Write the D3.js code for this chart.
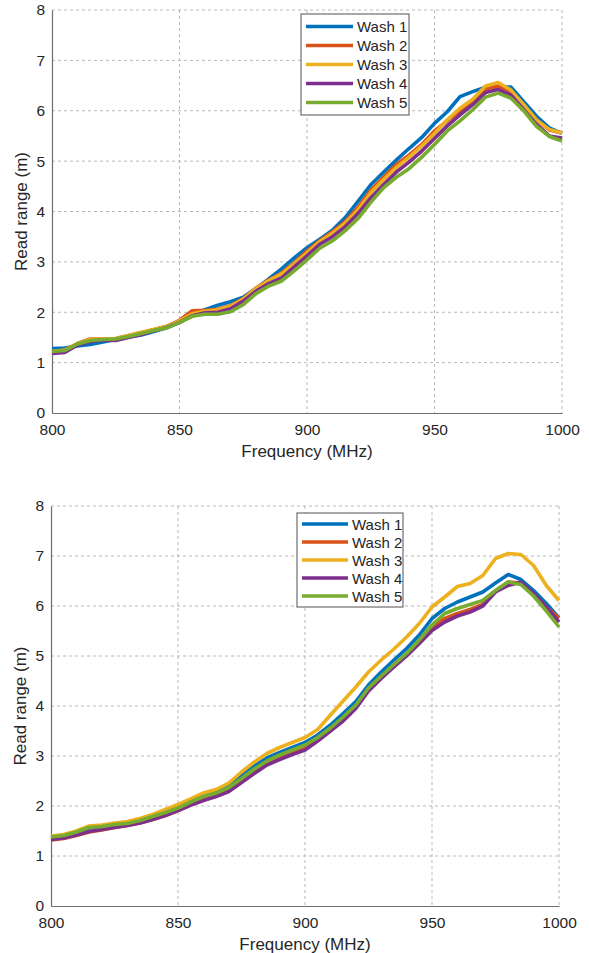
<!DOCTYPE html>
<html>
<head>
<meta charset="utf-8">
<script src="https://cdn.jsdelivr.net/npm/d3@7"></script>
<style>
  body { margin: 0; background: #fff; }
  svg { display: block; font-family: "Liberation Sans", Arial, sans-serif; }
</style>
</head>
<body>
<svg id="chart" width="589" height="953"></svg>
<script>
// Read range vs frequency for five wash cycles, two tag samples.
var freqs = [800, 805, 810, 815, 820, 825, 830, 835, 840, 845, 850, 855, 860, 865, 870, 875, 880, 885, 890, 895,
             900, 905, 910, 915, 920, 925, 930, 935, 940, 945, 950, 955, 960, 965, 970, 975, 980, 985, 990, 995, 1000];
var seriesNames = ['Wash 1', 'Wash 2', 'Wash 3', 'Wash 4', 'Wash 5'];
var seriesColors = ['#0072BD', '#D95319', '#EDB120', '#7E2F8E', '#77AC30'];
var xTicks = [800, 850, 900, 950, 1000];
var yTicks = [0, 1, 2, 3, 4, 5, 6, 7, 8];

// top chart
var topWash1 = [1.28, 1.29, 1.33, 1.36, 1.41, 1.46, 1.51, 1.55, 1.62, 1.69, 1.80, 1.94, 2.05, 2.14, 2.21, 2.30, 2.47, 2.66, 2.86, 3.08,
                3.28, 3.45, 3.63, 3.88, 4.20, 4.53, 4.78, 5.02, 5.25, 5.47, 5.75, 5.98, 6.28, 6.38, 6.47, 6.47, 6.47, 6.18, 5.89, 5.66, 5.55];
var topWash2 = [1.22, 1.25, 1.38, 1.47, 1.47, 1.48, 1.54, 1.60, 1.66, 1.72, 1.84, 2.03, 2.04, 2.06, 2.13, 2.27, 2.48, 2.64, 2.78, 2.98,
                3.22, 3.42, 3.60, 3.80, 4.08, 4.42, 4.68, 4.93, 5.12, 5.33, 5.60, 5.80, 6.00, 6.20, 6.43, 6.49, 6.38, 6.10, 5.82, 5.62, 5.56];
var topWash3 = [1.22, 1.25, 1.37, 1.46, 1.47, 1.48, 1.54, 1.60, 1.66, 1.72, 1.83, 1.97, 2.02, 2.05, 2.12, 2.26, 2.47, 2.63, 2.76, 2.96,
                3.18, 3.40, 3.57, 3.77, 4.03, 4.37, 4.63, 4.87, 5.08, 5.30, 5.55, 5.82, 6.05, 6.23, 6.49, 6.56, 6.41, 6.12, 5.82, 5.63, 5.56];
var topWash4 = [1.18, 1.20, 1.35, 1.42, 1.45, 1.44, 1.50, 1.56, 1.63, 1.70, 1.80, 1.93, 1.99, 2.00, 2.07, 2.22, 2.42, 2.57, 2.68, 2.90,
                3.12, 3.35, 3.50, 3.70, 3.96, 4.27, 4.53, 4.78, 4.98, 5.20, 5.45, 5.70, 5.92, 6.12, 6.36, 6.42, 6.31, 6.02, 5.73, 5.50, 5.46];
var topWash5 = [1.22, 1.24, 1.37, 1.44, 1.46, 1.47, 1.52, 1.58, 1.64, 1.69, 1.80, 1.92, 1.96, 1.96, 2.01, 2.15, 2.37, 2.52, 2.62, 2.82,
                3.04, 3.27, 3.42, 3.62, 3.86, 4.18, 4.47, 4.68, 4.85, 5.08, 5.33, 5.60, 5.80, 6.02, 6.27, 6.35, 6.25, 6.00, 5.69, 5.49, 5.40];

// bottom chart
var botWash1 = [1.37, 1.40, 1.47, 1.56, 1.58, 1.62, 1.66, 1.71, 1.78, 1.87, 1.97, 2.08, 2.19, 2.27, 2.40, 2.60, 2.80, 2.96, 3.07, 3.17,
                3.27, 3.42, 3.62, 3.85, 4.09, 4.42, 4.68, 4.92, 5.15, 5.42, 5.75, 5.95, 6.08, 6.18, 6.28, 6.46, 6.63, 6.53, 6.31, 6.05, 5.76];
var botWash2 = [1.32, 1.35, 1.41, 1.48, 1.52, 1.57, 1.61, 1.66, 1.73, 1.81, 1.91, 2.02, 2.12, 2.20, 2.30, 2.48, 2.68, 2.85, 2.96, 3.06,
                3.15, 3.32, 3.52, 3.73, 3.98, 4.32, 4.56, 4.80, 5.03, 5.30, 5.57, 5.75, 5.85, 5.93, 6.03, 6.30, 6.48, 6.46, 6.22, 5.98, 5.76];
var botWash3 = [1.40, 1.43, 1.50, 1.60, 1.62, 1.66, 1.69, 1.75, 1.83, 1.93, 2.03, 2.14, 2.26, 2.33, 2.46, 2.68, 2.88, 3.05, 3.17, 3.27,
                3.37, 3.53, 3.82, 4.10, 4.38, 4.68, 4.92, 5.14, 5.38, 5.65, 5.98, 6.18, 6.39, 6.45, 6.61, 6.95, 7.05, 7.03, 6.81, 6.41, 6.11];
var botWash4 = [1.33, 1.36, 1.42, 1.49, 1.53, 1.57, 1.61, 1.66, 1.73, 1.81, 1.91, 2.02, 2.11, 2.19, 2.29, 2.47, 2.65, 2.82, 2.93, 3.03,
                3.12, 3.30, 3.50, 3.70, 3.95, 4.30, 4.55, 4.78, 5.00, 5.25, 5.51, 5.68, 5.80, 5.88, 6.00, 6.28, 6.41, 6.48, 6.25, 5.98, 5.68];
var botWash5 = [1.38, 1.41, 1.48, 1.57, 1.59, 1.63, 1.65, 1.71, 1.79, 1.87, 1.96, 2.08, 2.19, 2.26, 2.37, 2.55, 2.74, 2.90, 3.02, 3.12,
                3.22, 3.37, 3.56, 3.78, 4.02, 4.36, 4.60, 4.83, 5.05, 5.32, 5.62, 5.85, 5.95, 6.03, 6.11, 6.31, 6.48, 6.43, 6.20, 5.90, 5.58];

var svg = d3.select('#chart');

function drawChart(series, box, legendBox) {
  var x = d3.scaleLinear().domain([800, 1000]).range([box.left, box.right]);
  var y = d3.scaleLinear().domain([0, 8]).range([box.bottom, box.top]);
  var g = svg.append('g');

  // grid
  g.append('g').selectAll('line')
    .data(xTicks.slice(1))
    .enter().append('line')
      .attr('x1', function(d) { return x(d); })
      .attr('x2', function(d) { return x(d); })
      .attr('y1', box.top).attr('y2', box.bottom)
      .attr('stroke', '#b8b8b8').attr('stroke-width', 1)
      .attr('stroke-dasharray', '3,3');
  g.append('g').selectAll('line')
    .data(yTicks.slice(1))
    .enter().append('line')
      .attr('y1', function(d) { return y(d); })
      .attr('y2', function(d) { return y(d); })
      .attr('x1', box.left).attr('x2', box.right)
      .attr('stroke', '#b8b8b8').attr('stroke-width', 1)
      .attr('stroke-dasharray', '3,3');

  // axes
  var xAxis = g.append('g')
    .attr('transform', 'translate(0,' + box.bottom + ')')
    .call(d3.axisBottom(x).tickValues(xTicks).tickFormat(d3.format('d')).tickSize(0).tickPadding(11));
  var yAxis = g.append('g')
    .attr('transform', 'translate(' + box.left + ',0)')
    .call(d3.axisLeft(y).tickValues(yTicks).tickFormat(d3.format('d')).tickSize(0).tickPadding(7));
  [xAxis, yAxis].forEach(function(a) {
    a.select('.domain').attr('stroke', '#6e6e6e').attr('stroke-width', 1.2);
    a.selectAll('text').attr('font-size', 15.5).attr('fill', '#262626')
      .attr('font-family', '"Liberation Sans", Arial, sans-serif');
  });

  g.append('text')
    .attr('x', (box.left + box.right) / 2)
    .attr('y', box.bottom + 44)
    .attr('text-anchor', 'middle')
    .attr('font-size', 17).attr('fill', '#262626')
    .text('Frequency (MHz)');
  g.append('text')
    .attr('transform', 'translate(' + (box.left - 25) + ',' + ((box.top + box.bottom) / 2) + ') rotate(-90)')
    .attr('text-anchor', 'middle')
    .attr('font-size', 17).attr('fill', '#262626')
    .text('Read range (m)');

  // lines
  var line = d3.line()
    .x(function(d, i) { return x(freqs[i]); })
    .y(function(d) { return y(d); });
  g.append('g').selectAll('path')
    .data(series)
    .enter().append('path')
      .attr('d', function(d) { return line(d); })
      .attr('fill', 'none')
      .attr('stroke', function(d, i) { return seriesColors[i]; })
      .attr('stroke-width', 3.6)
      .attr('stroke-linejoin', 'round');

  // legend
  var lg = g.append('g');
  lg.append('rect')
    .attr('x', legendBox.x).attr('y', legendBox.y)
    .attr('width', legendBox.w).attr('height', legendBox.h)
    .attr('fill', '#fff').attr('stroke', '#6e6e6e').attr('stroke-width', 1.2);
  var step = (legendBox.h - 2 * legendBox.pad) / seriesNames.length;
  seriesNames.forEach(function(name, i) {
    var cy = legendBox.y + legendBox.pad + step * (i + 0.5);
    lg.append('line')
      .attr('x1', legendBox.x + 5).attr('x2', legendBox.x + 5 + legendBox.lineLen)
      .attr('y1', cy).attr('y2', cy)
      .attr('stroke', seriesColors[i]).attr('stroke-width', 3.6);
    lg.append('text')
      .attr('x', legendBox.x + 9 + legendBox.lineLen)
      .attr('y', cy + 5.5)
      .attr('font-size', 15).attr('fill', '#262626')
      .text(name);
  });
}

drawChart([topWash1, topWash2, topWash3, topWash4, topWash5],
  {left: 52, right: 562, top: 10, bottom: 413},
  {x: 301, y: 14, w: 108, h: 101, pad: 3, lineLen: 47});

drawChart([botWash1, botWash2, botWash3, botWash4, botWash5],
  {left: 51, right: 559, top: 506, bottom: 906},
  {x: 297, y: 513, w: 106, h: 94, pad: 2, lineLen: 46});
</script>
</body>
</html>
